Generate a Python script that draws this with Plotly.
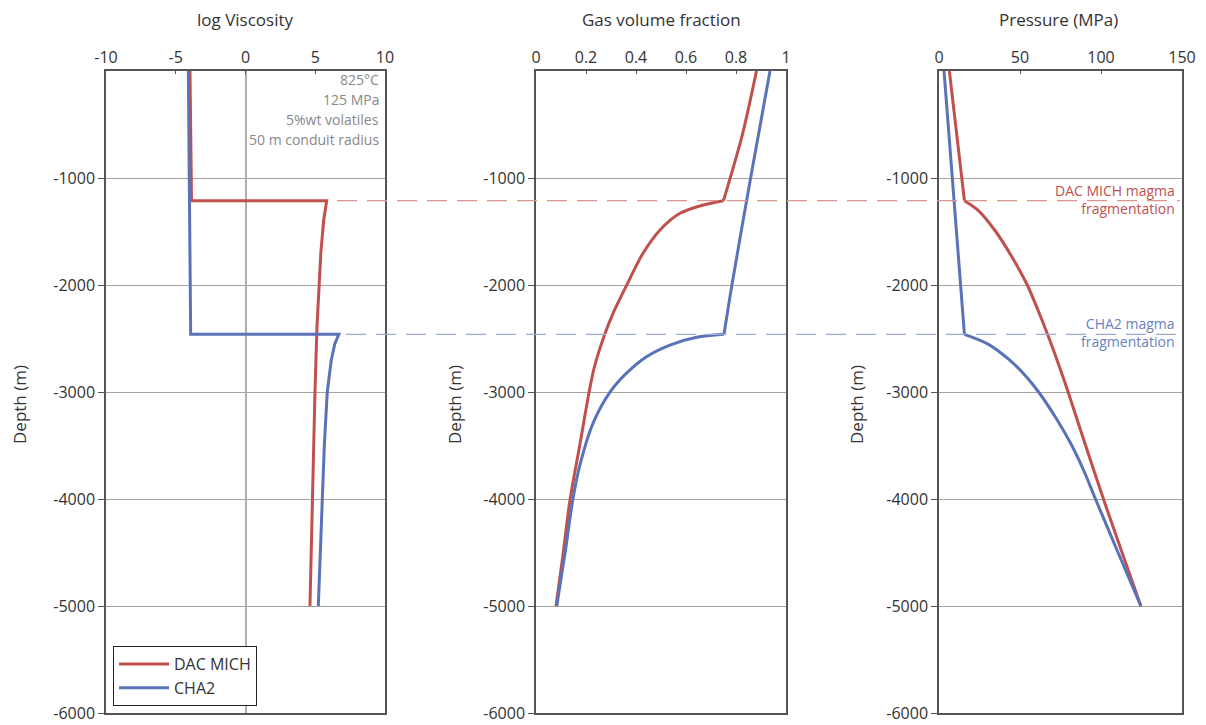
import plotly.graph_objects as go

# ---------------- data ----------------
depth_frag_dac = -1212
depth_frag_cha = -2461

# log viscosity
visc_dac_x = [-3.98, -3.87, 5.82, 5.6, 5.4, 5.27, 5.12, 4.98, 4.88, 4.79, 4.70, 4.62]
visc_dac_y = [0, -1212, -1212, -1400, -1700, -2000, -2400, -3000, -3500, -4000, -4500, -5000]
visc_cha_x = [-4.10, -3.93, 6.69, 6.40, 6.15, 5.86, 5.65, 5.50, 5.35, 5.22]
visc_cha_y = [0, -2461, -2461, -2550, -2700, -3000, -3500, -4000, -4500, -5000]

# gas volume fraction (upper = above fragmentation, lower = below)
gas_dac_up_x = [0.882, 0.825, 0.750]
gas_dac_up_y = [0, -600, -1212]
gas_dac_lo_x = [0.750, 0.669, 0.576, 0.496, 0.428, 0.361, 0.308, 0.275, 0.234, 0.214, 0.174, 0.136, 0.107, 0.080]
gas_dac_lo_y = [-1212, -1252, -1330, -1486, -1704, -2009, -2265, -2461, -2763, -2981, -3511, -4009, -4539, -5000]
gas_cha_up_x = [0.936, 0.857, 0.783, 0.752]
gas_cha_up_y = [0, -1019, -2009, -2461]
gas_cha_lo_x = [0.752, 0.643, 0.536, 0.442, 0.361, 0.298, 0.228, 0.174, 0.147, 0.118, 0.083]
gas_cha_lo_y = [-2461, -2489, -2561, -2670, -2826, -2995, -3293, -3698, -4009, -4477, -5000]

# pressure (MPa)
pres_dac_up_x = [6.4, 15.7]
pres_dac_up_y = [0, -1212]
pres_dac_lo_x = [15.7, 24.0, 35.0, 45.5, 54.5, 61.5, 68.0, 74.0, 79.7, 90.5, 101.5, 113.0, 124.6]
pres_dac_lo_y = [-1212, -1300, -1500, -1750, -2000, -2250, -2500, -2750, -3000, -3500, -4000, -4500, -5000]
pres_cha_up_x = [3.1, 15.7]
pres_cha_up_y = [0, -2461]
pres_cha_lo_x = [15.7, 30.0, 43.5, 53.5, 61.5, 72.5, 82.0, 89.8, 96.6, 110.5, 124.6]
pres_cha_lo_y = [-2461, -2550, -2700, -2850, -3000, -3250, -3500, -3750, -4000, -4500, -5000]

y_ticks = [-6000, -5000, -4000, -3000, -2000, -1000]
y_ticktext = ["-6000", "-5000", "-4000", "-3000", "-2000", "-1000"]
x1_ticks = [-10, -5, 0, 5, 10]
x1_text = ["-10", "-5", "0", "5", "10"]
x2_ticks = [0, 0.2, 0.4, 0.6, 0.8, 1]
x2_text = ["0", "0.2", "0.4", "0.6", "0.8", "1"]
x3_ticks = [0, 50, 100, 150]
x3_text = ["0", "50", "100", "150"]

RED = "#c0504d"
BLUE = "#5a72b8"
RED_D = "#d9958f"
BLUE_D = "#9dabd3"
AXC = "#555555"
GRIDC = "#a8a29c"
FONT = "Open Sans"

fig = go.Figure()

def add(x, y, color, xa, ya, spline, name=None, show=False):
    line = dict(color=color, width=3)
    if spline:
        line.update(shape="spline", smoothing=0.8)
    fig.add_trace(go.Scatter(x=x, y=y, mode="lines", name=name, line=line,
                             xaxis=xa, yaxis=ya, showlegend=show))

add(visc_dac_x, visc_dac_y, RED, "x", "y", False, "DAC MICH", True)
add(visc_cha_x, visc_cha_y, BLUE, "x", "y", False, "CHA2", True)
add(gas_dac_up_x, gas_dac_up_y, RED, "x2", "y2", True)
add(gas_dac_lo_x, gas_dac_lo_y, RED, "x2", "y2", True)
add(gas_cha_up_x, gas_cha_up_y, BLUE, "x2", "y2", True)
add(gas_cha_lo_x, gas_cha_lo_y, BLUE, "x2", "y2", True)
add(pres_dac_up_x, pres_dac_up_y, RED, "x3", "y3", False)
add(pres_dac_lo_x, pres_dac_lo_y, RED, "x3", "y3", True)
add(pres_cha_up_x, pres_cha_up_y, BLUE, "x3", "y3", False)
add(pres_cha_lo_x, pres_cha_lo_y, BLUE, "x3", "y3", True)

W, H = 1206, 725
L, R, T, B = 106, 24, 71, 12
PW = W - L - R
PH = H - T - B
def px(v):
    return (v - L) / PW
def py(v):
    return 1 - (v - T) / PH

doms = [(px(106), px(385)), (px(536), px(786)), (px(939), px(1182))]

def xaxis(dom, rng, tv, tt, anchor, zero=False):
    return dict(domain=list(dom), range=rng, side="top", anchor=anchor, automargin=False,
                tickvals=tv, ticktext=tt, ticks="inside", ticklen=3, tickcolor=AXC,
                showline=True, linecolor=AXC, linewidth=1.5, mirror=True,
                showgrid=False, zeroline=zero, zerolinecolor="#b5ada6", zerolinewidth=1.5,
                tickfont=dict(family=FONT, size=16, color="#333"), fixedrange=True)

def yaxis(anchor):
    return dict(domain=[0, 1], range=[-6000, 0], anchor=anchor, automargin=False,
                tickvals=y_ticks, ticktext=y_ticktext, ticks="outside", ticklen=6, tickcolor=AXC,
                showline=True, linecolor=AXC, linewidth=1.5, mirror=True,
                showgrid=True, gridcolor=GRIDC, gridwidth=1.2, zeroline=False,
                tickfont=dict(family=FONT, size=16, color="#333"), fixedrange=True)

fig.update_layout(
    width=W, height=H,
    margin=dict(l=L, r=R, t=T, b=B, autoexpand=False),
    paper_bgcolor="white", plot_bgcolor="white",
    xaxis=xaxis(doms[0], [-10, 10], x1_ticks, x1_text, "y", zero=True),
    xaxis2=xaxis(doms[1], [0, 1], x2_ticks, x2_text, "y2"),
    xaxis3=xaxis(doms[2], [0, 150], x3_ticks, x3_text, "y3"),
    yaxis=yaxis("x"), yaxis2=yaxis("x2"), yaxis3=yaxis("x3"),
    showlegend=True,
    legend=dict(x=px(113), y=py(706), xanchor="left", yanchor="bottom",
                bgcolor="white", bordercolor="#222", borderwidth=1,
                itemwidth=50, entrywidth=92,
                font=dict(family=FONT, size=16, color="#333")),
)

# fragmentation dashed lines
fig.add_shape(type="line", xref="paper", yref="y", x0=px(337), x1=px(1180),
              y0=depth_frag_dac, y1=depth_frag_dac,
              line=dict(color=RED_D, width=1.3, dash="20px,10px"))
fig.add_shape(type="line", xref="paper", yref="y", x0=px(346), x1=px(1180),
              y0=depth_frag_cha, y1=depth_frag_cha,
              line=dict(color=BLUE_D, width=1.3, dash="20px,10px"))

ann = []
titles = [("log Viscosity", 245), ("Gas volume fraction", 661), ("Pressure (MPa)", 1058)]
for t, cx in titles:
    ann.append(dict(text=t, x=px(cx), y=py(20), xref="paper", yref="paper",
                    xanchor="center", yanchor="middle",
                    showarrow=False, font=dict(family=FONT, size=17, color="#333")))
for cx in [20, 455, 857]:
    ann.append(dict(text="Depth (m)", x=px(cx), y=py(405), xref="paper", yref="paper",
                    xanchor="center", yanchor="middle",
                    showarrow=False, textangle=-90, font=dict(family=FONT, size=17, color="#333")))
info = ["825°C", "125 MPa", "5%wt volatiles", "50 m conduit radius"]
for i, s in enumerate(info):
    ann.append(dict(text=s, x=px(381), y=py(80 + i * 20), xref="paper", yref="paper",
                    xanchor="right", yanchor="middle", showarrow=False,
                    font=dict(family=FONT, size=14, color="#888")))
ann.append(dict(text="DAC MICH magma<br>fragmentation", x=px(1177), y=py(200), xref="paper", yref="paper",
                xanchor="right", yanchor="middle", align="right", showarrow=False,
                font=dict(family=FONT, size=14, color=RED)))
ann.append(dict(text="CHA2 magma<br>fragmentation", x=px(1177), y=py(333), xref="paper", yref="paper",
                xanchor="right", yanchor="middle", align="right", showarrow=False,
                font=dict(family=FONT, size=14, color="#6a7fbd")))
fig.update_layout(annotations=ann)

fig.write_html("out.html")
